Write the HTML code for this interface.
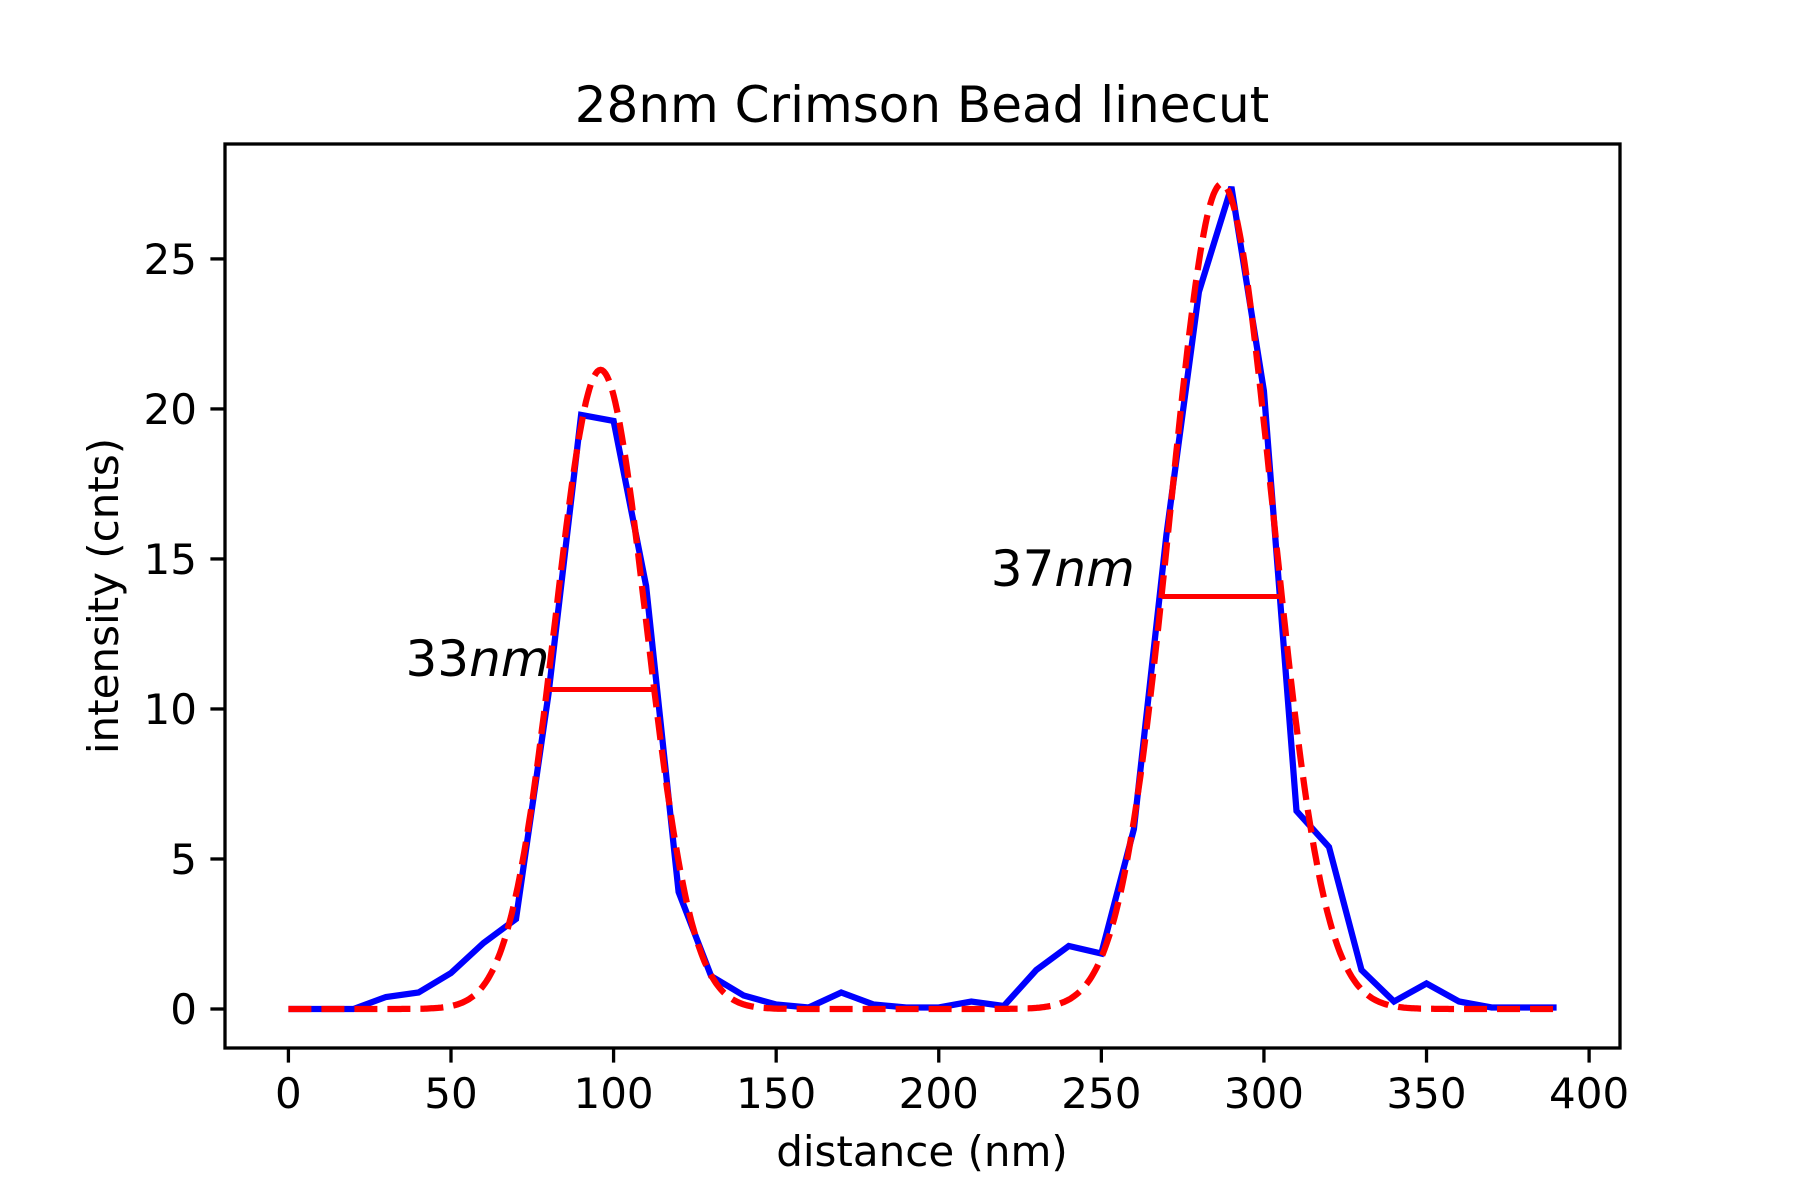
<!DOCTYPE html>
<html><head><meta charset="utf-8"><style>
html,body{margin:0;padding:0;background:#fff;}
svg{display:block;font-family:"DejaVu Sans","Liberation Sans",sans-serif;}
</style></head><body>
<svg id="chart" width="1800" height="1200" viewBox="0 0 1800 1200" xmlns="http://www.w3.org/2000/svg">
<rect width="1800" height="1200" fill="#fff"/>
<text x="922" y="122" font-size="50" text-anchor="middle">28nm Crimson Bead linecut</text>
<text x="922" y="1166" font-size="42" text-anchor="middle">distance (nm)</text>
<text transform="translate(118,596) rotate(-90)" font-size="42" text-anchor="middle">intensity (cnts)</text>
<g id="ticks"></g>
<g id="marks"></g>
<rect x="225" y="144" width="1395" height="904" fill="none" stroke="#000" stroke-width="3.3"/>
</svg>
<script>
const distances = [0,10,20,30,40,50,60,70,80,90,100,110,120,130,140,150,160,170,180,190,200,210,220,230,240,250,260,270,280,290,300,310,320,330,340,350,360,370,380,390];
const intensity = [0,0,0,0.4,0.55,1.2,2.2,3.0,10.5,19.8,19.6,14.1,3.9,1.1,0.45,0.15,0.05,0.55,0.15,0.05,0.05,0.25,0.1,1.3,2.1,1.85,6.0,15.8,23.9,27.4,20.6,6.6,5.4,1.3,0.25,0.85,0.25,0.05,0.05,0.05];
const fitAmps = [21.3, 27.5];
const fitCenters = [96, 287];
const fitFwhm = [33, 37];
const fwhmLabels = ["33", "37"];
const labelPos = [[36, 11.1], [216, 14.1]];
const xTicks = [0,50,100,150,200,250,300,350,400];
const yTicks = [0,5,10,15,20,25];

const NS = "http://www.w3.org/2000/svg";
const X0 = 225, X1 = 1620, Y0 = 1048, Y1 = 144;
const xMin = -19.5, xMax = 409.5, yMin = -1.3, yMax = 28.83;
function sx(v){ return X0 + (v - xMin) / (xMax - xMin) * (X1 - X0); }
function sy(v){ return Y0 - (v - yMin) / (yMax - yMin) * (Y0 - Y1); }
function mk(tag, attrs, parent){ const e = document.createElementNS(NS, tag); for (const k in attrs) e.setAttribute(k, attrs[k]); parent.appendChild(e); return e; }

const ticks = document.getElementById('ticks');
xTicks.forEach(t => {
  const l = mk('line', {x1: sx(t), x2: sx(t), y1: Y0, y2: Y0 + 14.6, stroke: '#000', 'stroke-width': 3.3}, ticks);
  
  
  const tx = mk('text', {x: sx(t), y: Y0 + 60, 'font-size': 42, 'text-anchor': 'middle'}, ticks);
  tx.textContent = t;
  
  
});
yTicks.forEach(t => {
  const l = mk('line', {x1: X0 - 14.6, x2: X0, y1: sy(t), y2: sy(t), stroke: '#000', 'stroke-width': 3.3}, ticks);
  
  
  const tx = mk('text', {x: X0 - 28, y: sy(t) + 15, 'font-size': 42, 'text-anchor': 'end'}, ticks);
  tx.textContent = t;
  
  
});

const marks = document.getElementById('marks');
const dataPts = distances.map((d, i) => sx(d).toFixed(1) + ',' + sy(intensity[i]).toFixed(1)).join(' ');
const dataLine = mk('polyline', {points: dataPts, fill: 'none', stroke: '#0000ff', 'stroke-width': 6.25, 'stroke-linejoin': 'miter'}, marks);



function fit(x){
  let s = 0;
  for (let k = 0; k < fitAmps.length; k++){
    const sig = fitFwhm[k] / 2.3548;
    s += fitAmps[k] * Math.exp(-Math.pow(x - fitCenters[k], 2) / (2 * sig * sig));
  }
  return s;
}
const fitPts = [];
const last = distances[distances.length - 1];
for (let x = distances[0]; x <= last + 0.001; x += 0.5) fitPts.push(sx(x).toFixed(1) + ',' + sy(fit(x)).toFixed(1));
const fitLine = mk('polyline', {points: fitPts.join(' '), fill: 'none', stroke: '#ff0000', 'stroke-width': 6.25, 'stroke-dasharray': '23 10'}, marks);



for (let k = 0; k < fitAmps.length; k++){
  const h = fitAmps[k] / 2;
  const bar = mk('line', {x1: sx(fitCenters[k] - fitFwhm[k] / 2), x2: sx(fitCenters[k] + fitFwhm[k] / 2), y1: sy(h), y2: sy(h), stroke: '#ff0000', 'stroke-width': 5}, marks);
  
  
  const t = mk('text', {x: sx(labelPos[k][0]), y: sy(labelPos[k][1]), 'font-size': 50}, marks);
  t.innerHTML = fwhmLabels[k] + '<tspan font-style="italic">nm</tspan>';
  
  
}
</script>
</body></html>
